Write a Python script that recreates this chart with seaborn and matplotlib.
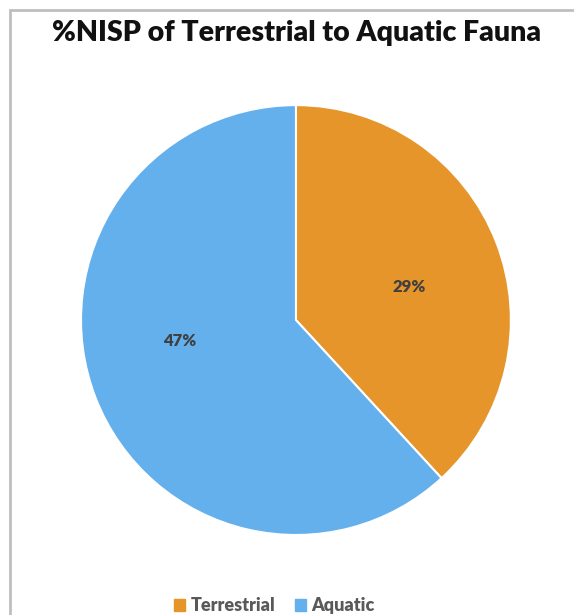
import matplotlib
matplotlib.use("Agg")
import matplotlib.pyplot as plt
import matplotlib.patches as mpatches
import numpy as np
import seaborn as sns

sns.set_style("white")
plt.rcParams['font.family'] = ['Lato', 'DejaVu Sans']

# data
categories = ["Terrestrial", "Aquatic"]
values = [29, 47]
colors = ["#E6952A", "#63B0EC"]

fig = plt.figure(figsize=(5.74, 6.15), dpi=100)
ax = fig.add_axes([0.1411, 0.1301, 0.749, 0.699])

wedges, texts, autotexts = ax.pie(
    values, colors=colors, startangle=90, counterclock=False,
    autopct=lambda p: f"{p * sum(values) / 100:.0f}%", pctdistance=0.55,
    wedgeprops=dict(edgecolor="white", linewidth=1.5),
    textprops=dict(fontsize=12, fontweight="heavy", color="#404040"))

# nudge the labels round a little, as in the original
for w, t, shift in zip(wedges, autotexts, [-5, -11]):
    mid = np.deg2rad((w.theta1 + w.theta2) / 2 + shift)
    t.set_position((0.55 * np.cos(mid), 0.55 * np.sin(mid)))

ax.set_xlim(-1, 1)
ax.set_ylim(-1, 1)
ax.set_aspect("equal")

# outer chart border (cut off at right and bottom)
fig.patches.append(mpatches.Rectangle((10 / 574, -0.1), 1.0, 0.1 + 605 / 615,
                                      transform=fig.transFigure, fill=False,
                                      edgecolor="#BFBFBF", linewidth=2))

fig.text(0.516, 0.947, "%NISP of Terrestrial to Aquatic Fauna", ha="center", va="center",
         fontsize=20.5, fontweight="heavy", color="#111111")

handles = [mpatches.Patch(color=c, label=l) for c, l in zip(colors, categories)]
fig.legend(handles=handles, loc="center", bbox_to_anchor=(0.478, 0.015), ncol=2,
           frameon=False, handlelength=0.6, handleheight=0.6, handletextpad=0.3,
           columnspacing=1.1, prop=dict(size=13, weight="heavy"), labelcolor="#595959")

fig.savefig("out.png", dpi=100)
